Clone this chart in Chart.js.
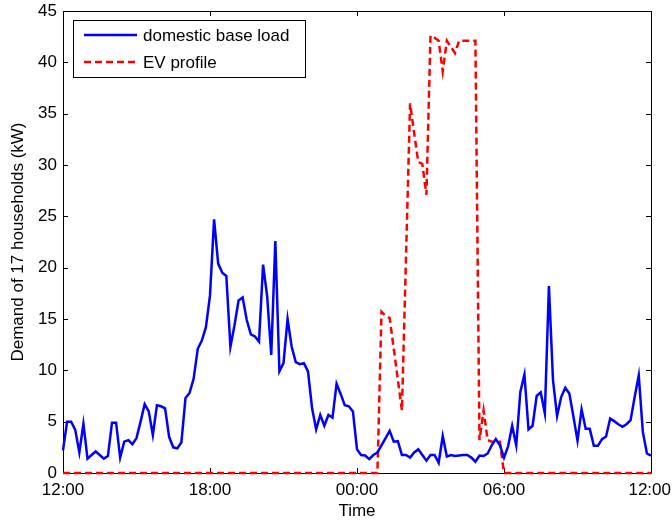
<!DOCTYPE html>
<html>
<head>
<meta charset="utf-8">
<script src="https://cdn.jsdelivr.net/npm/chart.js@4.4.0/dist/chart.umd.min.js"></script>
<style>
  body { margin: 0; background: #fff; }
  #wrap { width: 672px; height: 523px; }
</style>
</head>
<body>
<div id="wrap"><canvas id="loadChart" width="672" height="523"></canvas></div>
<script>
// x axis: hours after 12:00, one sample every 10 minutes
const tickLabels = ["12:00", "18:00", "00:00", "06:00", "12:00"];
const sampleStep = 1 / 6;

// domestic base load (kW)
const baseLoad = [
  2.2, 5.0, 5.0, 4.2, 2.0, 4.8, 1.4, 1.75, 2.1, 1.75, 1.4, 1.65,
  4.9, 4.9, 1.5, 3.05, 3.2, 2.8, 3.4, 5.0, 6.7, 6.0, 3.7, 6.6,
  6.5, 6.3, 3.5, 2.5, 2.4, 3.0, 7.3, 7.8, 9.2, 12.1, 12.9, 14.2,
  17.3, 24.7, 20.4, 19.5, 19.2, 12.3, 14.4, 16.8, 17.1, 14.9, 13.5, 13.3,
  12.8, 20.3, 17.2, 11.5, 22.6, 9.9, 10.7, 15.0, 12.3, 10.8, 10.6, 10.7,
  9.9, 6.3, 4.25, 5.65, 4.6, 5.65, 5.4, 8.7, 7.7, 6.6, 6.5, 6.0,
  2.3, 1.75, 1.7, 1.35, 1.75, 2.0, 2.7, 3.4, 4.1, 3.05, 3.1, 1.75,
  1.75, 1.5, 2.0, 2.3, 1.75, 1.2, 1.75, 1.75, 1.0, 3.6, 1.6, 1.75,
  1.65, 1.7, 1.75, 1.75, 1.5, 1.1, 1.7, 1.65, 1.9, 2.7, 3.3, 2.7,
  1.5, 2.6, 4.6, 2.7, 7.9, 9.6, 4.25, 4.6, 7.5, 7.85, 5.8, 18.2,
  9.05, 5.55, 7.4, 8.3, 7.75, 5.5, 3.15, 6.2, 4.3, 4.3, 2.65, 2.65,
  3.3, 3.55, 5.3, 5.05, 4.75, 4.5, 4.75, 5.15, 7.4, 9.5, 4.0, 1.9,
  1.7
];

// EV charging profile (kW)
const evProfile = [
  0, 0, 0, 0, 0, 0, 0, 0, 0, 0, 0, 0,
  0, 0, 0, 0, 0, 0, 0, 0, 0, 0, 0, 0,
  0, 0, 0, 0, 0, 0, 0, 0, 0, 0, 0, 0,
  0, 0, 0, 0, 0, 0, 0, 0, 0, 0, 0, 0,
  0, 0, 0, 0, 0, 0, 0, 0, 0, 0, 0, 0,
  0, 0, 0, 0, 0, 0, 0, 0, 0, 0, 0, 0,
  0, 0, 0, 0, 0, 0, 15.7, 15.3, 15.1, 12.1, 9.1, 6.1,
  21.0, 36.0, 33.1, 30.3, 30.1, 27.1, 42.6, 42.4, 42.1, 39.1, 42.1, 41.5,
  40.9, 42.1, 42.1, 42.1, 42.1, 42.1, 3.2, 6.1, 3.2, 3.05, 3.05, 3.05,
  0, 0, 0, 0, 0, 0, 0, 0, 0, 0, 0, 0,
  0, 0, 0, 0, 0, 0, 0, 0, 0, 0, 0, 0,
  0, 0, 0, 0, 0, 0, 0, 0, 0, 0, 0, 0,
  0
];

const FONT = "'Liberation Sans', Arial, Helvetica, sans-serif";

function toPoints(values) {
  return values.map((v, i) => ({ x: i * sampleStep, y: v }));
}

// axes box + inward ticks, drawn under the lines
const axesBox = {
  id: "axesBox",
  beforeDatasetsDraw(chart) {
    const { ctx, chartArea: a, scales } = chart;
    ctx.save();
    ctx.strokeStyle = "#000";
    ctx.lineWidth = 1;
    ctx.beginPath();
    scales.x.ticks.forEach((t) => {
      const px = Math.round(scales.x.getPixelForValue(t.value)) + 0.5;
      ctx.moveTo(px, a.bottom);
      ctx.lineTo(px, a.bottom - 5);
      ctx.moveTo(px, a.top);
      ctx.lineTo(px, a.top + 5);
    });
    scales.y.ticks.forEach((t) => {
      const py = Math.round(scales.y.getPixelForValue(t.value)) + 0.5;
      ctx.moveTo(a.left, py);
      ctx.lineTo(a.left + 5, py);
      ctx.moveTo(a.right, py);
      ctx.lineTo(a.right - 5, py);
    });
    ctx.rect(Math.round(a.left) + 0.5, Math.round(a.top) + 0.5,
      Math.round(a.right - a.left), Math.round(a.bottom - a.top));
    ctx.stroke();

    // x tick labels, kept inside the canvas
    ctx.font = "17px " + FONT;
    ctx.fillStyle = "#000";
    ctx.textBaseline = "middle";
    ctx.textAlign = "center";
    scales.x.ticks.forEach((t, i) => {
      const w = ctx.measureText(tickLabels[i]).width;
      let px = scales.x.getPixelForValue(t.value);
      px = Math.min(px, chart.width - 1 - w / 2);
      ctx.fillText(tickLabels[i], px, a.bottom + 17);
    });
    ctx.restore();
  },
};

// matlab-style legend box in the upper left
const boxLegend = {
  id: "boxLegend",
  afterDraw(chart) {
    const ctx = chart.ctx;
    const x0 = 73, y0 = 20, w = 232, h = 57;
    ctx.save();
    ctx.fillStyle = "#fff";
    ctx.fillRect(x0, y0, w, h);
    ctx.strokeStyle = "#000";
    ctx.lineWidth = 1;
    ctx.strokeRect(x0 + 0.5, y0 + 0.5, w, h);
    ctx.font = "17px " + FONT;
    ctx.textBaseline = "middle";
    ctx.fillStyle = "#000";
    chart.data.datasets.forEach((ds, i) => {
      const yy = 35 + i * 27;
      ctx.beginPath();
      ctx.strokeStyle = ds.borderColor;
      ctx.lineWidth = ds.borderWidth;
      ctx.setLineDash(ds.borderDash || []);
      ctx.moveTo(84, yy);
      ctx.lineTo(137, yy);
      ctx.stroke();
      ctx.setLineDash([]);
      ctx.fillText(ds.label, 143, yy + 1);
    });
    ctx.restore();
  },
};

new Chart(document.getElementById("loadChart"), {
  type: "line",
  data: {
    datasets: [
      {
        label: "domestic base load",
        data: toPoints(baseLoad),
        borderColor: "#0000ff",
        borderWidth: 2.5,
        pointRadius: 0,
        tension: 0,
        clip: false,
      },
      {
        label: "EV profile",
        data: toPoints(evProfile),
        borderColor: "#ff0000",
        borderWidth: 2.5,
        borderDash: [7, 4],
        pointRadius: 0,
        tension: 0,
        clip: false,
      },
    ],
  },
  options: {
    responsive: false,
    animation: false,
    layout: { padding: { top: 11, right: 21, left: 0, bottom: 0 } },
    plugins: {
      legend: { display: false },
      tooltip: { enabled: false },
    },
    scales: {
      x: {
        type: "linear",
        min: 0,
        max: 24,
        grid: { display: false, drawTicks: false },
        border: { display: false },
        ticks: { stepSize: 6, display: false },
        title: {
          display: true,
          text: "Time",
          color: "#000",
          font: { family: FONT, size: 17, lineHeight: 1.2 },
          padding: { top: 0, bottom: 1 },
        },
        afterFit: (scale) => {
          scale.height = 50;
          scale.paddingLeft = 0;
          scale.paddingRight = 0;
        },
      },
      y: {
        min: 0,
        max: 45,
        grid: { display: false, drawTicks: false },
        border: { display: false },
        ticks: {
          stepSize: 5,
          padding: 6,
          color: "#000",
          font: { family: FONT, size: 17 },
        },
        title: {
          display: true,
          text: "Demand of 17 households (kW)",
          color: "#000",
          font: { family: FONT, size: 17, lineHeight: 1.2 },
          padding: { top: 8, bottom: 0 },
        },
        afterFit: (scale) => {
          scale.width = 63;
          scale.paddingTop = 0;
          scale.paddingBottom = 0;
        },
      },
    },
  },
  plugins: [axesBox, boxLegend],
});
</script>
</body>
</html>
